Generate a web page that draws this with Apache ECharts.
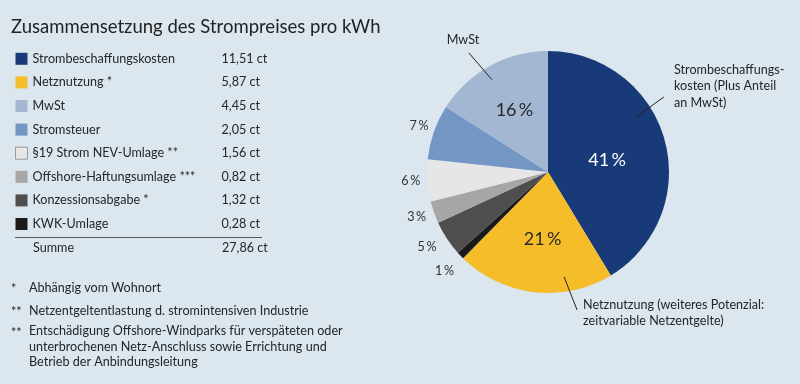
<!DOCTYPE html>
<html><head><meta charset="utf-8">
<script src="https://cdn.jsdelivr.net/npm/echarts@6/dist/echarts.min.js"></script>
<style>html,body{margin:0;padding:0;background:#dbe6ef}#c{width:800px;height:384px}</style>
</head><body><div id="c"></div>
<script>
// ---- data ----
const categories = ['Strombeschaffungskosten', 'Netznutzung *', 'MwSt', 'Stromsteuer', '§19 Strom NEV-Umlage **', 'Offshore-Haftungsumlage ***', 'Konzessionsabgabe *', 'KWK-Umlage'];
const values = [11.51, 5.87, 4.45, 2.05, 1.56, 0.82, 1.32, 0.28];
const unit = 'ct';
const sumLabel = 'Summe';
const pieOrder = [0, 1, 7, 6, 5, 4, 3, 2]; // clockwise slice order (indices into categories)
const pieNotes = ['Strombeschaffungs-\nkosten (Plus Anteil\nan MwSt)', 'Netznutzung (weiteres Potenzial:\nzeitvariable Netzentgelte)', 'MwSt', '', '', '', '', ''];
const footnoteMarks = ['*', '**', '**'];
const footnoteTexts = ['Abhängig vom Wohnort', 'Netzentgeltentlastung d. stromintensiven Industrie', 'Entschädigung Offshore-Windparks für verspäteten oder\nunterbrochenen Netz-Anschluss sowie Errichtung und\nBetrieb der Anbindungsleitung'];
const titleText = 'Zusammensetzung des Strompreises pro kWh';

// ---- styles ----
const colors = ['#183a78', '#f6bd2a', '#a3b6d2', '#7496c5', '#e6e6e6', '#a6a6a6', '#4e4e4e', '#1a1a1a'];
const FONT = 'Lato, "Noto Sans", sans-serif';
const FS = 12.6;
const TXT = '#262626';
const CX = 548, CY = 172, R = 121;
// small label nudges [dx, dy] per category (layout tweak only)
const pctNudge = [[-2, 5], [2, 4], [-3, -6], [3.5, -5], [2, 0], [1, 3.5], [-2, 6.5], [1.5, 13]];
// note text anchors [x, y, align] per category
const noteAnchor = [[674, 86, 'left'], [583, 313, 'left'], [463, 40, 'center'], null, null, null, null, null];
// leader lines in polar form around the pie centre: [angleStart(deg, clockwise from 12 o'clock), rStart, angleEnd, rEnd]
const noteLine = [[58.0, 104, 57.1, 138], [171.3, 106, 168.1, 141], [328.7, 108, 326.4, 143], null, null, null, null, null];

const total = values.reduce((a, b) => a + b, 0);
const fmt = v => v.toFixed(2).replace('.', ',') + ' ' + unit;
const polar = (a, r) => [CX + r * Math.sin(a * Math.PI / 180), CY - r * Math.cos(a * Math.PI / 180)];

const pieData = pieOrder.map(i => {
  const share = values[i] / total;
  const inside = share >= 0.1;
  return {
    name: categories[i], value: values[i], itemStyle: { color: colors[i] },
    label: inside ? { position: 'inside', fontSize: 18, color: i === 0 ? '#ffffff' : '#2a2a2a' }
                  : { position: 'outside', fontSize: FS, color: '#333' },
    labelLine: { show: false, length: 4, length2: 0 }
  };
});

const chart = echarts.init(document.getElementById('c'));
chart.setOption({
  backgroundColor: '#dbe6ef',
  animation: false,
  textStyle: { fontFamily: FONT },
  title: { text: titleText, left: 6, top: 13, textStyle: { fontFamily: FONT, fontSize: 18.5, fontWeight: 'normal', color: '#222' } },
  legend: {
    orient: 'vertical', left: 10, top: 46, itemWidth: 12, itemHeight: 12, itemGap: 8, icon: 'rect',
    selectedMode: false,
    data: categories.map((c, i) => ({ name: c, itemStyle: { color: colors[i], borderColor: i === 4 ? '#9a9a9a' : colors[i], borderWidth: i === 4 ? 1 : 0 } })),
    formatter: name => '{n|' + name + '}{v|' + fmt(values[categories.indexOf(name)]) + '}',
    textStyle: { color: TXT, fontFamily: FONT, fontSize: FS, lineHeight: 15.6,
      rich: { n: { width: 189, fontSize: FS, fontFamily: FONT, color: TXT, lineHeight: 15.6 }, v: { fontSize: FS, fontFamily: FONT, color: TXT, lineHeight: 15.6 } } }
  },
  graphic: [
    { type: 'line', shape: { x1: 15, y1: 237.5, x2: 262, y2: 237.5 }, style: { stroke: '#555', lineWidth: 1 } },
    { type: 'text', left: 33, top: 241, style: { text: sumLabel, font: FS + 'px ' + FONT, fill: TXT } },
    { type: 'text', left: 222, top: 241, style: { text: fmt(total), font: FS + 'px ' + FONT, fill: TXT } },
    ...footnoteMarks.map((m, k) => ({ type: 'text', left: 11, top: [282, 305, 326][k], style: { text: m, font: FS + 'px ' + FONT, fill: TXT } })),
    ...footnoteTexts.map((t, k) => ({ type: 'text', left: 29, top: [280, 303, 323.5][k], style: { text: t, font: FS + 'px ' + FONT, fill: TXT, lineHeight: 15.5 } }))
  ],
  series: [
    {
      type: 'pie', center: [CX, CY], radius: R, startAngle: 90, clockwise: true, silent: true,
      avoidLabelOverlap: false, itemStyle: { borderWidth: 0 }, emphasis: { disabled: true },
      label: { formatter: p => Math.round(p.percent) + '\u2009%', fontFamily: FONT },
      labelLayout: p => {
        const n = pctNudge[pieOrder[p.dataIndex]];
        return { x: p.labelRect.x + n[0], y: p.labelRect.y + n[1], align: 'left', verticalAlign: 'top' };
      },
      data: pieData
    },
    {
      // leader lines
      type: 'pie', center: [CX, CY], radius: 106, startAngle: 90, clockwise: true, silent: true, z: 3,
      avoidLabelOverlap: false, itemStyle: { color: 'rgba(0,0,0,0)', borderWidth: 0 }, emphasis: { disabled: true },
      labelLayout: p => {
        const l = noteLine[pieOrder[p.dataIndex]];
        return l ? { labelLinePoints: [polar(l[0], l[1]), polar(l[2], l[3])] } : {};
      },
      data: pieOrder.map(i => ({
        name: categories[i], value: values[i],
        label: { show: !!pieNotes[i], formatter: ' ', position: 'outside' },
        labelLine: { show: !!pieNotes[i], length: 34, length2: 0, smooth: false, lineStyle: { color: '#222', width: 1 } }
      }))
    },
    {
      // note texts
      type: 'pie', center: [CX, CY], radius: R, startAngle: 90, clockwise: true, silent: true, z: 3,
      avoidLabelOverlap: false, itemStyle: { color: 'rgba(0,0,0,0)', borderWidth: 0 }, emphasis: { disabled: true },
      label: { position: 'outside', fontFamily: FONT, fontSize: FS, color: TXT, lineHeight: 16.5, formatter: p => pieNotes[pieOrder[p.dataIndex]] },
      labelLine: { show: false },
      labelLayout: p => {
        const a = noteAnchor[pieOrder[p.dataIndex]];
        return a ? { x: a[0], y: a[1], align: a[2], verticalAlign: 'middle' } : {};
      },
      data: pieOrder.map(i => ({ name: categories[i], value: values[i], label: { show: !!pieNotes[i] } }))
    }
  ]
});
</script></body></html>
